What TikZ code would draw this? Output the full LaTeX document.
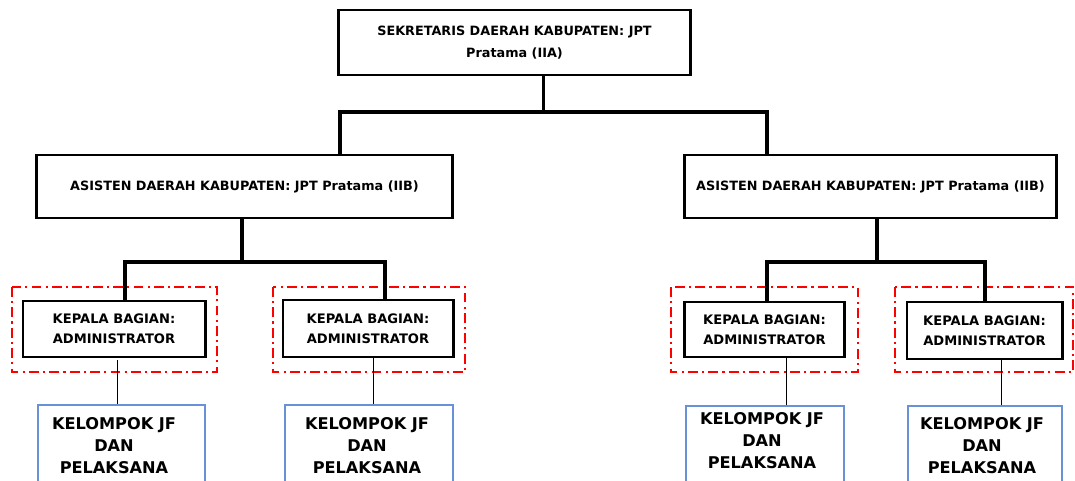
\documentclass[tikz,border=0pt]{standalone}
\usepackage{fontspec}
\setmainfont{DejaVu Sans}
\usetikzlibrary{positioning}
\definecolor{jfblue}{RGB}{105,145,215}
\tikzset{
  jabatan/.style={draw, line width=2.1pt, align=center, font=\bfseries\fontsize{9.1}{15.5}\selectfont, inner sep=0pt},
  kabag/.style={draw, line width=2.1pt, align=center, font=\bfseries\fontsize{9.3}{14.2}\selectfont, inner sep=0pt},
  jfbox/.style={draw=jfblue, line width=1.1pt, minimum width=4.2cm, minimum height=3cm, inner sep=0pt},
  jftext/.style={anchor=north, align=center, font=\bfseries\fontsize{11.5}{15.8}\selectfont, inner sep=0pt},
  redline/.style={red, line width=1pt, dash pattern=on 7pt off 3pt on 1.5pt off 3pt},
  cabang/.style={line width=3pt},
  tangkai/.style={line width=1.5pt},
  tipis/.style={line width=0.7pt}
}
\begin{document}
\begin{tikzpicture}[x=0.025cm, y=-0.025cm]
  \useasboundingbox (0,0) rectangle (1075,480);
  \clip (0,0) rectangle (1075,480);

  % sekretaris daerah
  \node[jabatan, minimum width=8.775cm, minimum height=1.625cm] (sekda) at (514.5,42.5)
       {SEKRETARIS DAERAH KABUPATEN: JPT\\Pratama (IIA)};

  % asisten
  \node[jabatan, minimum width=10.375cm, minimum height=1.575cm] (asistenA) at (244.5,186.5)
       {ASISTEN DAERAH KABUPATEN: JPT Pratama (IIB)};
  \node[jabatan, minimum width=9.275cm, minimum height=1.575cm] (asistenB) at (870.5,186.5)
       {ASISTEN DAERAH KABUPATEN: JPT Pratama (IIB)};

  % kepala bagian
  \node[kabag, minimum width=4.55cm, minimum height=1.4cm] (kabag1) at (114,329) {KEPALA BAGIAN:\\ADMINISTRATOR};
  \node[kabag, minimum width=4.25cm, minimum height=1.425cm] (kabag2) at (368,328.5) {KEPALA BAGIAN:\\ADMINISTRATOR};
  \node[kabag, minimum width=4cm, minimum height=1.375cm] (kabag3) at (764.5,329.5) {KEPALA BAGIAN:\\ADMINISTRATOR};
  \node[kabag, minimum width=3.875cm, minimum height=1.425cm] (kabag4) at (984.5,330.5) {KEPALA BAGIAN:\\ADMINISTRATOR};

  \draw[redline] (12,287) rectangle (217,372);
  \draw[redline] (273,287) rectangle (465,372);
  \draw[redline] (671,287) rectangle (858,372);
  \draw[redline] (895,287) rectangle (1073,372);

  % kelompok jf
  \node[jfbox, minimum width=4.175cm, anchor=north] (jf1) at (121.5,404) {};
  \node[jfbox, minimum width=4.2cm, anchor=north] (jf2) at (369,404) {};
  \node[jfbox, minimum width=3.95cm, anchor=north] (jf3) at (765,405) {};
  \node[jfbox, minimum width=3.85cm, anchor=north] (jf4) at (985,405) {};
  \foreach \k/\x/\y in {jf1/114/417, jf2/367/417, jf3/762/412, jf4/982/417}
    \node[jftext] at (\x,\y) {KELOMPOK JF\\DAN\\PELAKSANA};

  % garis
  \coordinate (simpul) at (543.5,112);
  \coordinate (ujungA) at (340,112);
  \coordinate (ujungB) at (767,112);
  \draw[tangkai] (sekda.south -| simpul) -- (simpul);
  \draw[cabang, line cap=rect] (ujungA) -- (ujungB);
  \draw[cabang] (ujungA) -- (ujungA |- asistenA.north);
  \draw[cabang] (ujungB) -- (ujungB |- asistenB.north);

  \coordinate (simpulA) at (242,262);
  \draw[cabang] (asistenA.south -| simpulA) -- (simpulA);
  \draw[cabang, line cap=rect] (125,262) -- (385,262);
  \draw[cabang] (125,262) -- (kabag1.north -| 125,0);
  \draw[cabang] (385,262) -- (kabag2.north -| 385,0);

  \coordinate (simpulB) at (877,262);
  \draw[cabang] (asistenB.south -| simpulB) -- (simpulB);
  \draw[cabang, line cap=rect] (767,262) -- (985,262);
  \draw[cabang] (767,262) -- (kabag3.north -| 767,0);
  \draw[cabang] (985,262) -- (kabag4.north -| 985,0);

  \draw[tipis] (117,360) -- (jf1.north -| 117,0);
  \draw[tipis] (373,357) -- (jf2.north -| 373,0);
  \draw[tipis] (786,357) -- (jf3.north -| 786,0);
  \draw[tipis] (1001,360) -- (jf4.north -| 1001,0);
\end{tikzpicture}
\end{document}
